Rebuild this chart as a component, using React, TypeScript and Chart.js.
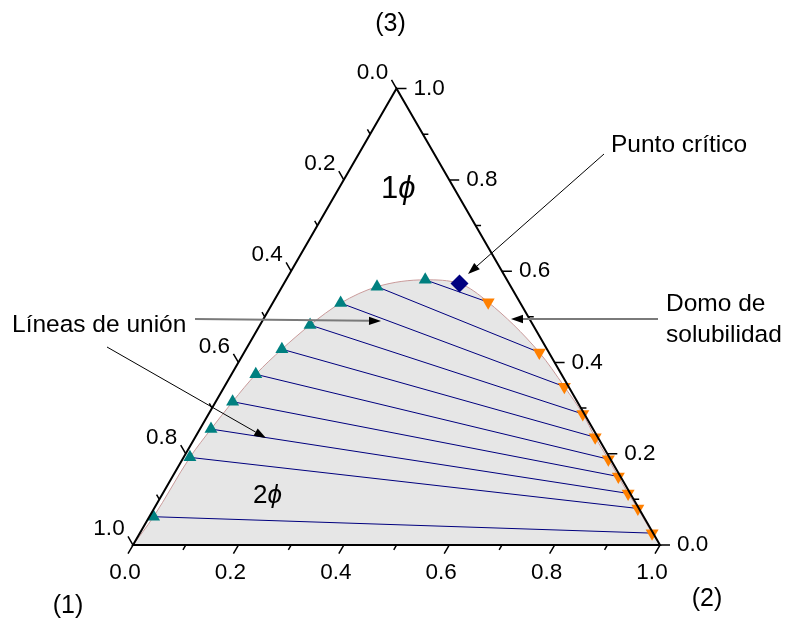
import { useEffect, useRef } from "react";
import { Chart, registerables } from "chart.js";

Chart.register(...registerables);

// Ternary compositions: fraction of component (2) and component (3); component (1) = 1 - x2 - x3
const richPhaseX2 = [0.264, 0.180, 0.129, 0.095, 0.068, 0.046, 0.032, 0.021, 0.012, 0.008];
const richPhaseX3 = [0.581, 0.566, 0.530, 0.482, 0.429, 0.374, 0.314, 0.254, 0.192, 0.062];
const leanPhaseX2 = [0.408, 0.560, 0.645, 0.710, 0.759, 0.808, 0.846, 0.883, 0.918, 0.972];
const leanPhaseX3 = [0.532, 0.422, 0.347, 0.287, 0.236, 0.188, 0.150, 0.113, 0.080, 0.026];
const criticalX2 = [0.333];
const criticalX3 = [0.573];
// dome ends at the pure-component vertices (1) and (2)
const domeStartX2X3 = [0, 0];
const domeEndX2X3 = [1, 0];

const majorTicks = [0, 0.2, 0.4, 0.6, 0.8, 1.0];
const minorTicks = [0.1, 0.3, 0.5, 0.7, 0.9];
const tickLabels = ["0.0", "0.2", "0.4", "0.6", "0.8", "1.0"];
const vertexLabels = ["(1)", "(2)", "(3)"];

const SQ = Math.sqrt(3) / 2;
const FONT = "'Liberation Sans', Arial, sans-serif";

function toXY(x2: number, x3: number) {
  return { x: x2 + x3 / 2, y: x3 * SQ };
}

function arrow(ctx: CanvasRenderingContext2D, x1: number, y1: number, x2: number, y2: number, color: string, width: number) {
  const ang = Math.atan2(y2 - y1, x2 - x1);
  const hl = 12, hw = 4.2;
  const bx = x2 - Math.cos(ang) * hl, by = y2 - Math.sin(ang) * hl;
  ctx.save();
  ctx.strokeStyle = color;
  ctx.lineWidth = width;
  ctx.beginPath();
  ctx.moveTo(x1, y1);
  ctx.lineTo(bx, by);
  ctx.stroke();
  ctx.fillStyle = "#000";
  ctx.beginPath();
  ctx.moveTo(x2, y2);
  ctx.lineTo(bx + Math.sin(ang) * hw, by - Math.cos(ang) * hw);
  ctx.lineTo(bx - Math.sin(ang) * hw, by + Math.cos(ang) * hw);
  ctx.closePath();
  ctx.fill();
  ctx.restore();
}

const ternaryPlugin = {
  id: "ternary",
  afterDatasetsDraw(chart: any) {
    const ctx: CanvasRenderingContext2D = chart.ctx;
    const xs = chart.scales.x, ys = chart.scales.y;
    const P = (x2: number, x3: number) => {
      const c = toXY(x2, x3);
      return [xs.getPixelForValue(c.x), ys.getPixelForValue(c.y)];
    };
    ctx.save();
    // frame
    const a = P(0, 0), b = P(1, 0), c = P(0, 1);
    ctx.strokeStyle = "#000";
    ctx.lineWidth = 2;
    ctx.lineJoin = "miter";
    ctx.beginPath();
    ctx.moveTo(a[0], a[1]);
    ctx.lineTo(b[0], b[1]);
    ctx.lineTo(c[0], c[1]);
    ctx.closePath();
    ctx.stroke();

    const axes = [
      { base: (v: number) => P(v, 0), dir: [-0.5, SQ], lab: [-8, 28], align: "center" },
      { base: (v: number) => P(0, 1 - v), dir: [-0.5, -SQ], lab: [-24, -16], align: "center" },
      { base: (v: number) => P(1 - v, v), dir: [1, 0], lab: [17, 0], align: "left" },
    ];
    ctx.lineWidth = 1.5;
    ctx.fillStyle = "#000";
    ctx.font = `22.5px ${FONT}`;
    ctx.textBaseline = "middle";
    for (const ax of axes) {
      ctx.beginPath();
      for (const v of majorTicks) {
        const p = ax.base(v);
        ctx.moveTo(p[0], p[1]);
        ctx.lineTo(p[0] + ax.dir[0] * 10, p[1] + ax.dir[1] * 10);
      }
      for (const v of minorTicks) {
        const p = ax.base(v);
        ctx.moveTo(p[0], p[1]);
        ctx.lineTo(p[0] + ax.dir[0] * 5.5, p[1] + ax.dir[1] * 5.5);
      }
      ctx.stroke();
      ctx.textAlign = ax.align as CanvasTextAlign;
      majorTicks.forEach((v, i) => {
        const p = ax.base(v);
        ctx.fillText(tickLabels[i], p[0] + ax.lab[0], p[1] + ax.lab[1]);
      });
    }

    // vertex labels
    ctx.font = `25px ${FONT}`;
    ctx.textAlign = "center";
    ctx.fillText(vertexLabels[0], a[0] - 65, a[1] + 61);
    ctx.fillText(vertexLabels[1], b[0] + 47, b[1] + 54);
    ctx.fillText(vertexLabels[2], c[0] - 6, c[1] - 64);

    // phase labels
    ctx.textAlign = "left";
    ctx.textBaseline = "alphabetic";
    ctx.font = `31px ${FONT}`;
    ctx.fillText("1", 381, 198);
    let w = ctx.measureText("1").width;
    ctx.font = `italic 31px ${FONT}`;
    ctx.fillText("ϕ", 381 + w, 198);
    ctx.font = `26px ${FONT}`;
    ctx.fillText("2", 253, 503);
    w = ctx.measureText("2").width;
    ctx.font = `italic 26px ${FONT}`;
    ctx.fillText("ϕ", 253 + w, 503);

    // annotations
    ctx.font = `24.5px ${FONT}`;
    ctx.fillText("Punto crítico", 611, 152);
    ctx.fillText("Domo de", 666, 311);
    ctx.fillText("solubilidad", 666, 342);
    ctx.fillText("Líneas de unión", 12, 332);
    arrow(ctx, 604, 154, 468, 274, "#000", 1);
    arrow(ctx, 658, 319, 511, 319, "#7a7a7a", 2);
    arrow(ctx, 195, 319, 381, 321, "#7a7a7a", 2);
    arrow(ctx, 107, 347, 266, 438, "#000", 1);
    ctx.restore();
  },
};

export default function App() {
  const ref = useRef<HTMLCanvasElement | null>(null);
  useEffect(() => {
    if (!ref.current) return;
    const rich = richPhaseX2.map((v, i) => toXY(v, richPhaseX3[i]));
    const lean = leanPhaseX2.map((v, i) => toXY(v, leanPhaseX3[i]));
    const crit = criticalX2.map((v, i) => toXY(v, criticalX3[i]));
    const dome = [
      toXY(domeStartX2X3[0], domeStartX2X3[1]),
      ...rich.slice().reverse(),
      ...crit,
      ...lean,
      toXY(domeEndX2X3[0], domeEndX2X3[1]),
    ];
    const tieLines = rich.map((r, i) => ({
      data: [r, lean[i]],
      showLine: true,
      borderColor: "#00007f",
      borderWidth: 1,
      pointRadius: 0,
      fill: false,
      clip: false,
    }));
    const chart = new Chart(ref.current, {
      type: "scatter",
      data: {
        datasets: [
          {
            data: crit,
            pointStyle: "rectRot",
            pointRadius: 9,
            backgroundColor: "#000080",
            borderWidth: 0,
            clip: false,
          } as any,
          {
            data: lean,
            pointStyle: "triangle",
            rotation: 180,
            pointRadius: 7.5,
            backgroundColor: "#ff8000",
            borderWidth: 0,
            clip: false,
          },
          {
            data: rich,
            pointStyle: "triangle",
            pointRadius: 7.5,
            backgroundColor: "#008080",
            borderWidth: 0,
            clip: false,
          },
          ...tieLines,
          {
            data: dome,
            showLine: true,
            borderColor: "#c99a9a",
            borderWidth: 1,
            pointRadius: 0,
            cubicInterpolationMode: "monotone",
            fill: "origin",
            backgroundColor: "#e6e6e6",
            clip: false,
          },
        ] as any,
      },
      options: {
        animation: false,
        responsive: false,
        devicePixelRatio: 1,
        layout: { padding: { left: 133, right: 127, top: 88.6, bottom: 74 } },
        scales: {
          x: { type: "linear", min: 0, max: 1, display: false },
          y: { type: "linear", min: 0, max: SQ, display: false },
        },
        plugins: { legend: { display: false }, tooltip: { enabled: false } },
        events: [],
      },
      plugins: [ternaryPlugin],
    });
    return () => chart.destroy();
  }, []);
  return (
    <div style={{ position: "fixed", left: 0, top: 0, width: 787, height: 619, background: "#fff" }}>
      <canvas ref={ref} width={787} height={619} style={{ display: "block" }} />
    </div>
  );
}
